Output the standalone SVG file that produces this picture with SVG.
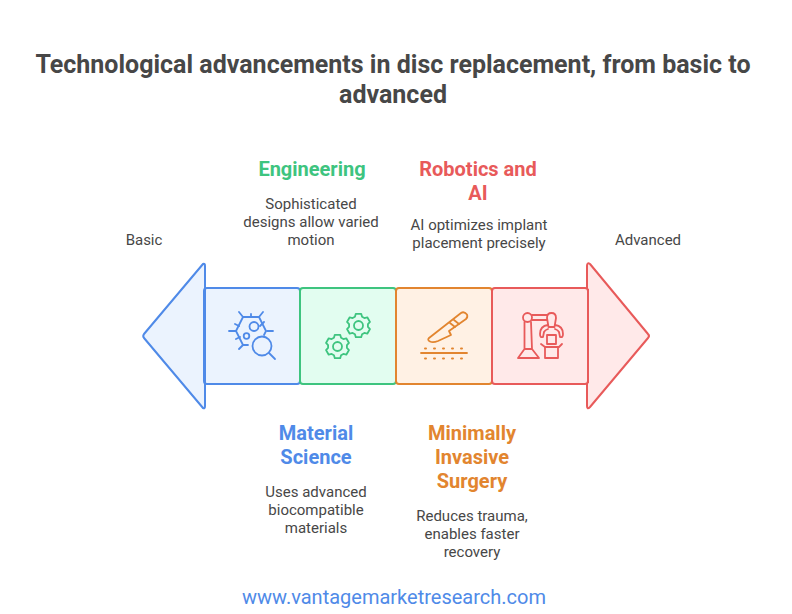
<svg xmlns="http://www.w3.org/2000/svg" xmlns:xlink="http://www.w3.org/1999/xlink" width="792" height="614" viewBox="0 0 792 614">
<style>
text{font-family:Roboto,"Liberation Sans",sans-serif;text-anchor:middle}
.title{font-size:25px;font-weight:700;fill:#474747}
.head{font-size:20px;font-weight:700}
.body{font-size:15px;fill:#474747}
.shape{stroke-width:2;stroke-linejoin:round}
.icon{fill:none;stroke-width:1.8;stroke-linecap:round;stroke-linejoin:round}
.blue{stroke:#4f8ae8;fill:#ebf3fe}.green{stroke:#3ec47f;fill:#e2fdf0}.orange{stroke:#e2852f;fill:#fff1e4}.red{stroke:#e85a5a;fill:#ffe9e9}
.iblue{stroke:#4f8ae8}.igreen{stroke:#3ec47f}.iorange{stroke:#e2852f}.ired{stroke:#e85a5a}
</style>
<defs>
<g id="gear">
<path d="M-3.56-8.81L-2.7-11.69L2.7-11.69L3.56-8.81L5.85-7.49L8.78-8.18L11.48-3.51L9.41-1.32L9.41 1.32L11.48 3.51L8.78 8.18L5.85 7.49L3.56 8.81L2.7 11.69L-2.7 11.69L-3.56 8.81L-5.85 7.49L-8.78 8.18L-11.48 3.51L-9.41 1.32L-9.41-1.32L-11.48-3.51L-8.78-8.18L-5.85-7.49Z"/>
<circle r="4.5"/>
</g>
</defs>
<rect width="792" height="614" fill="#fff"/>
<text class="title" x="393" y="73">Technological advancements in disc replacement, from basic to</text>
<text class="title" x="393" y="103">advanced</text>
<g id="label-basic"><text class="body" x="144" y="245">Basic</text></g>
<g id="label-advanced"><text class="body" x="648" y="245">Advanced</text></g>
<g id="connectors"></g>
<g id="node-material">
<path class="shape blue" d="M205 288V266Q205 263 203 264L144 334Q142.500 336 144 338L203 408Q205 409 205 406V384Z"/>
<rect class="shape blue" x="204" y="288" width="96" height="96" rx="3"/>
<path d="M205 289V383" stroke="#4f8ae8" stroke-width="2"/>
<g class="icon iblue">
<path d="M248 345H243L236 331L243 317H259L266 331L264 335"/>
<path d="M239 312L243 317M263 312L259 317M251 314V317M229 331H236M267 331H273M236 339L240 337M235 324L239 326M264 322L260 326M239 349L243 345"/>
<circle cx="254" cy="326.500" r="4.500"/><circle cx="246.500" cy="336" r="2.800"/><circle cx="262" cy="346" r="9.500"/><path d="M269 353L275 359"/>
</g>
<g id="text-material"><text class="head" x="316" y="439.500" fill="#4f8ae8">Material</text><text class="head" x="316" y="463.500" fill="#4f8ae8">Science</text>
<text class="body" x="316" y="497">Uses advanced</text><text class="body" x="316" y="515">biocompatible</text><text class="body" x="316" y="533">materials</text></g>
</g>
<g id="node-engineering">
<rect class="shape green" x="300" y="288" width="96" height="96" rx="3"/>
<g class="icon igreen"><use xlink:href="#gear" href="#gear" x="358.500" y="325.500"/><use xlink:href="#gear" href="#gear" x="337.500" y="346.500"/></g>
<g id="text-engineering"><text class="head" x="312" y="175.500" fill="#3ec47f">Engineering</text>
<text class="body" x="311" y="209">Sophisticated</text><text class="body" x="311" y="227">designs allow varied</text><text class="body" x="311" y="245">motion</text></g>
</g>
<g id="node-surgery">
<rect class="shape orange" x="396" y="288" width="96" height="96" rx="3"/>
<g class="icon iorange">
<path d="M467 314.500Q464 311 461 313L429 338Q427 340 430 341.500Q433 343 438 341L451 335L449 331L466 319Q468 317 467 314.500Z"/>
<path d="M450 323L455 327M454 320L459 324"/>
<path d="M421 353H467"/>
<path d="M425 348.500H426M434 348.500H435M443 348.500H444M452 348.500H453M461 348.500H462M425 358.500H426M434 358.500H435M443 358.500H444M452 358.500H453M461 358.500H462" stroke-width="2"/>
</g>
<g id="text-surgery"><text class="head" x="472" y="439.500" fill="#e2852f">Minimally</text><text class="head" x="472" y="463.500" fill="#e2852f">Invasive</text><text class="head" x="472" y="487.500" fill="#e2852f">Surgery</text>
<text class="body" x="472" y="521">Reduces trauma,</text><text class="body" x="472" y="539">enables faster</text><text class="body" x="472" y="557">recovery</text></g>
</g>
<g id="node-robotics">
<path class="shape red" d="M587 288V266Q587 262 590 264L648 334Q650 336 648 338L590 407Q587 410 587 406V384Z"/>
<rect class="shape red" x="492" y="288" width="96" height="96" rx="3"/>
<path d="M588 289V383" stroke="#e85a5a" stroke-width="2"/>
<g class="icon ired">
<circle cx="527.500" cy="317.500" r="4.500"/>
<path d="M532 315H547M532 320H547"/>
<path d="M524.500 322V349L518 358H539L532 349L531 322M524.500 349H532"/>
<path d="M547 318Q547 313 551.500 313Q556 313 556 318L554.500 327H548.500Z"/>
<path d="M548 325Q540 326 540 334Q540 338 543 337L544 332Q545 330 548 329M555 325Q563 326 563 334Q563 338 560 337L559 332Q558 330 555 329"/>
<rect x="547" y="335" width="9" height="9"/>
<path d="M541 344L545 347H559L562 344"/>
<rect x="545" y="347" width="13" height="11"/>
</g>
<g id="text-robotics"><text class="head" x="478" y="175.500" fill="#e85a5a">Robotics and</text><text class="head" x="478" y="199.500" fill="#e85a5a">AI</text>
<text class="body" x="479" y="230">AI optimizes implant</text><text class="body" x="479" y="248">placement precisely</text></g>
</g>
<text x="394" y="604" font-size="20" fill="#4f8ae8">www.vantagemarketresearch.com</text>
</svg>
